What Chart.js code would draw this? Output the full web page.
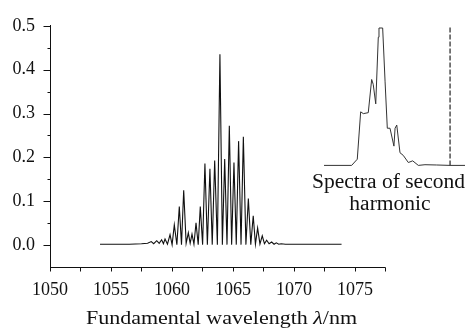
<!DOCTYPE html>
<html>
<head>
<meta charset="utf-8">
<script src="https://cdn.jsdelivr.net/npm/chart.js@4"></script>
<style>
  html, body { margin: 0; padding: 0; background: #fff; }
  #wrap { width: 465px; height: 329px; position: relative; }
</style>
</head>
<body>
<div id="wrap"><canvas id="chart_fundamentalSpectrum"></canvas></div>
<script>
// fundamental spectrum (nm, a.u.)
var wavelength = [
    1054.1, 1055.5, 1056.5, 1057.5, 1058.0, 1058.3, 1058.5, 1058.75, 1058.95, 1059.15,
    1059.3, 1059.43, 1059.63, 1059.84, 1060.01, 1060.19, 1060.4, 1060.6, 1060.78, 1060.96,
    1061.16, 1061.34, 1061.49, 1061.64, 1061.8, 1061.97, 1062.15, 1062.32, 1062.51, 1062.7,
    1062.9, 1063.11, 1063.3, 1063.5, 1063.72, 1063.93, 1064.13, 1064.32, 1064.51, 1064.7,
    1064.89, 1065.08, 1065.27, 1065.46, 1065.66, 1065.85, 1066.06, 1066.26, 1066.46, 1066.66,
    1066.84, 1067.02, 1067.21, 1067.4, 1067.58, 1067.76, 1067.96, 1068.17, 1068.37, 1068.55,
    1068.75, 1068.95, 1069.3, 1070.5, 1071.5, 1072.5, 1073.9
];
var intensity = [
    0.002, 0.002, 0.002, 0.003, 0.004, 0.008, 0.003, 0.010, 0.004, 0.012,
    0.003, 0.014, 0.002, 0.024, 0.001, 0.046, 0.001, 0.088, 0.001, 0.125,
    0.004, 0.028, 0.004, 0.025, 0.002, 0.051, 0.001, 0.088, 0.001, 0.186,
    0.001, 0.174, 0.001, 0.193, 0.001, 0.435, 0.001, 0.196, 0.001, 0.272,
    0.001, 0.188, 0.001, 0.237, 0.001, 0.247, 0.001, 0.106, 0.001, 0.067,
    0.002, 0.039, 0.002, 0.021, 0.003, 0.011, 0.003, 0.007, 0.002, 0.005,
    0.002, 0.003, 0.002, 0.002, 0.002, 0.002, 0.002
];

// inset: second harmonic spectrum (relative position 0..100, normalised intensity)
var shPosition = [
    0, 19.6, 23.6, 26.0, 27.9, 31.4, 33.8, 34.9, 36.7, 38.5,
    39.0, 41.6, 43.3, 44.9, 46.8, 49.6, 50.4, 51.6, 53.9, 56.2,
    59.8, 62.9, 66.9, 71.6, 79.9, 89.4, 100
];
var shIntensity = [
    0, 0, 0.045, 0.389, 0.376, 0.383, 0.624, 0.589, 0.447, 0.931,
    0.998, 0.998, 0.612, 0.270, 0.270, 0.140, 0.270, 0.293, 0.092, 0.073,
    0.021, 0.033, 0.0, 0.005, 0.003, 0, 0
];
var shMarkerPosition = [89.4, 89.4];
var shMarkerIntensity = [0, 1.014];

var yTicks = [0.0, 0.1, 0.2, 0.3, 0.4, 0.5];
var xTicks = [1050, 1055, 1060, 1065, 1070, 1075];
var xAxisEnd = 1077.5;

function zip(xs, ys) {
    return xs.map(function (x, i) { return { x: x, y: ys[i] }; });
}

var serif = '"Liberation Serif", "DejaVu Serif", serif';

// draws text squeezed/stretched horizontally to a target width
function fitText(ctx, parts, left, baseline, target) {
    var total = 0;
    parts.forEach(function (p) { ctx.font = p.font; p.w = ctx.measureText(p.text).width; total += p.w; });
    var sx = target / total;
    ctx.save();
    ctx.translate(left, baseline);
    ctx.scale(sx, 1);
    ctx.textAlign = 'left';
    var x = 0;
    parts.forEach(function (p) { ctx.font = p.font; ctx.fillText(p.text, x, 0); x += p.w; });
    ctx.restore();
    return sx;
}

var chart_fundamentalSpectrum = new Chart(document.getElementById('chart_fundamentalSpectrum'), {
    type: 'line',
    data: {
        datasets: [
            {
                label: 'fundamental',
                data: zip(wavelength, intensity),
                borderColor: '#111',
                borderWidth: 1.1,
                pointRadius: 0,
                tension: 0
            },
            {
                label: 'second harmonic',
                data: zip(shPosition, shIntensity),
                xAxisID: 'xi',
                yAxisID: 'yi',
                borderColor: '#333',
                borderWidth: 1,
                pointRadius: 0,
                tension: 0
            },
            {
                label: 'marker',
                data: zip(shMarkerPosition, shMarkerIntensity),
                xAxisID: 'xi',
                yAxisID: 'yi',
                borderColor: '#222',
                borderWidth: 1.2,
                borderDash: [5, 2],
                pointRadius: 0
            }
        ]
    },
    options: {
        animation: false,
        responsive: true,
        maintainAspectRatio: false,
        layout: { padding: { top: 20, right: 0, bottom: 0, left: 0 } },
        plugins: {
            legend: { display: false },
            tooltip: { enabled: false }
        },
        scales: {
            x: {
                type: 'linear',
                min: 1050,
                max: 1084.02,
                afterBuildTicks: function (s) {
                    s.ticks = xTicks.map(function (v) { return { value: v }; });
                },
                afterFit: function (s) { s.height = 62; },
                ticks: {
                    color: '#111',
                    padding: 12,
                    maxRotation: 0,
                    autoSkip: false,
                    font: { family: serif, size: 18 },
                    callback: function (v) { return String(v); }
                },
                grid: { display: false, drawTicks: false },
                border: { display: false }
            },
            y: {
                type: 'linear',
                min: -0.05,
                max: 0.5,
                afterBuildTicks: function (s) {
                    s.ticks = yTicks.map(function (v) { return { value: v }; });
                },
                afterFit: function (s) { s.width = 50; },
                ticks: {
                    color: '#111',
                    padding: 15,
                    autoSkip: false,
                    font: { family: serif, size: 18 },
                    callback: function (v) { return v.toFixed(1); }
                },
                grid: { display: false, drawTicks: false },
                border: { color: '#111', width: 1 }
            },
            xi: { type: 'linear', display: false, min: -194.33, max: 100 },
            yi: { type: 'linear', display: false, min: -0.738, max: 1.014 }
        }
    },
    plugins: [{
        id: 'axesAndLabels',
        afterDraw: function (chart) {
            var ctx = chart.ctx, xs = chart.scales.x, ys = chart.scales.y;
            var area = chart.chartArea;
            ctx.save();
            ctx.strokeStyle = '#111';
            ctx.lineWidth = 1;
            // x axis line, stops at 1077.5
            var xEnd = Math.round(xs.getPixelForValue(xAxisEnd)) + 0.5;
            var yAx = Math.round(area.bottom) + 0.5;
            ctx.beginPath();
            ctx.moveTo(area.left, yAx);
            ctx.lineTo(xEnd, yAx);
            // x ticks every 2.5 nm
            for (var v = 1050; v <= xAxisEnd + 1e-9; v += 2.5) {
                var px = Math.round(xs.getPixelForValue(v)) + 0.5;
                ctx.moveTo(px, yAx);
                ctx.lineTo(px, yAx + 4);
            }
            // y ticks: major 0.1, minor 0.05
            var xAx = Math.round(area.left) + 0.5;
            for (var i = 0; i <= 10; i++) {
                var val = i * 0.05;
                var py = Math.round(ys.getPixelForValue(val)) + 0.5;
                ctx.moveTo(xAx, py);
                ctx.lineTo(xAx - (i % 2 === 0 ? 7 : 3), py);
            }
            ctx.stroke();

            ctx.fillStyle = '#111';
            ctx.textBaseline = 'alphabetic';
            // x-axis title with italic lambda
            fitText(ctx, [
                { text: 'Fundamental wavelength ', font: '19px ' + serif },
                { text: '\u03bb', font: 'italic 19px ' + serif },
                { text: '/nm', font: '19px ' + serif }
            ], 86, 324, 271);
            // inset caption
            var f = '20px ' + serif;
            ctx.font = f;
            var w1 = ctx.measureText('Spectra of second').width;
            var sx = 153 / w1;
            fitText(ctx, [{ text: 'Spectra of second', font: f }], 388.5 - 76.5, 188, 153);
            ctx.font = f;
            var w2 = ctx.measureText('harmonic').width * sx;
            fitText(ctx, [{ text: 'harmonic', font: f }], 390 - w2 / 2, 210, w2);
            ctx.restore();
        }
    }, {
        id: 'whiteBackground',
        beforeDraw: function (chart) {
            var ctx = chart.canvas.getContext('2d');
            ctx.save();
            ctx.globalCompositeOperation = 'destination-over';
            ctx.fillStyle = 'white';
            ctx.fillRect(0, 0, chart.canvas.width, chart.canvas.height);
            ctx.restore();
        }
    }]
});
</script>
</body>
</html>
